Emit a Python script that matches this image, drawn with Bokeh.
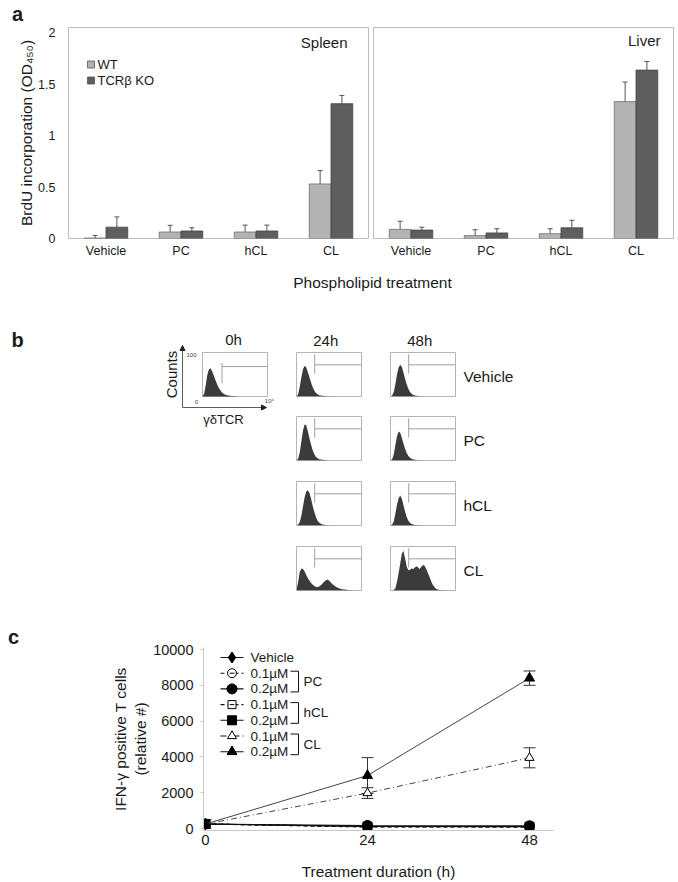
import math
from bokeh.plotting import figure
from bokeh.layouts import row, column
from bokeh.models import (Range1d, ColumnDataSource, Whisker, TeeHead, LinearAxis,
                          Label, FixedTicker, Arrow, NormalHead, NumeralTickFormatter)
from bokeh.transform import dodge
from bokeh.embed import file_html
from bokeh.resources import INLINE

FONT = "Liberation Sans"
TXT = "#1a1a1a"

# ======================= DATA =======================
# ---- panel a : BrdU incorporation (OD450)
treatments = ["Vehicle", "PC", "hCL", "CL"]
genotypes = ["WT", "TCRβ KO"]
spleen_wt = [0.005, 0.063, 0.063, 0.53]
spleen_wt_err = [0.025, 0.065, 0.067, 0.13]
spleen_ko = [0.11, 0.073, 0.073, 1.31]
spleen_ko_err = [0.10, 0.031, 0.057, 0.08]
liver_wt = [0.089, 0.028, 0.047, 1.33]
liver_wt_err = [0.079, 0.057, 0.048, 0.19]
liver_ko = [0.082, 0.054, 0.104, 1.636]
liver_ko_err = [0.028, 0.041, 0.073, 0.084]
brdu_ticks = [0, 0.5, 1, 1.5, 2]

# ---- panel b : gamma-delta TCR histograms (counts, % of max, per log bin)
time_points = ["0h", "24h", "48h"]
conditions = ["Vehicle", "PC", "hCL", "CL"]
hist_0h = [0, 6, 26, 50, 62, 64, 57, 47, 37, 28, 20, 14, 9, 6, 4, 3, 2, 1.5, 1, 1, 0.5, 0.5, 0]
hist_24h = {
    "Vehicle": [0, 5, 22, 44, 62, 70, 66, 55, 43, 31, 21, 13, 8, 5, 3, 2, 1.5, 1, 1, 0.5, 0.5, 0],
    "PC": [0, 4, 18, 44, 68, 82, 80, 66, 50, 35, 23, 14, 8, 5, 3, 2, 1.5, 1, 0.5, 0.5, 0],
    "hCL": [0, 2, 8, 22, 44, 64, 77, 80, 74, 60, 44, 30, 19, 11, 6, 4, 2.5, 1.5, 1, 0.5, 0.5, 0],
    "CL": [0, 20, 42, 50, 49, 43, 35, 28, 22, 17, 13, 10, 8, 8, 9, 12, 16, 20, 23, 25,
           23, 19, 15, 12, 9, 7, 5, 4, 3, 2.5, 2, 1.5, 1, 0.5, 0.5, 0],
}
hist_48h = {
    "Vehicle": [0, 2, 10, 28, 50, 66, 72, 67, 54, 40, 27, 17, 10, 6, 3.5, 2, 1.5, 1, 0.5, 0.5, 0],
    "PC": [0, 3, 14, 35, 55, 66, 63, 51, 38, 26, 17, 10, 6, 4, 2.5, 1.5, 1, 0.5, 0.5, 0],
    "hCL": [0, 2, 9, 27, 47, 62, 68, 61, 46, 31, 19, 11, 6, 3.5, 2, 1, 1, 0.5, 0.5, 0],
    "CL": [0, 0, 1, 5, 20, 40, 62, 84, 90, 72, 54, 46, 47, 50, 49, 52, 55, 52, 49, 54,
           58, 56, 49, 40, 31, 21, 13, 8, 4, 2, 1, 1, 0.5, 0.5, 0],
}
gate_x, gate_top, gate_bottom, gate_level = 11.2, 96, 52, 72
gate0_x, gate0_top, gate0_bottom, gate0_level = 12, 76, 30, 68

# ---- panel c : IFN-gamma positive T cells
hours = [0, 24, 48]
vehicle = [250, 120, 110]
pc_01 = [250, 100, 90]
pc_02 = [250, 170, 150]
hcl_01 = [250, 80, 80]
hcl_02 = [250, 110, 100]
cl_01 = [250, 1980, 3950]
cl_01_err = [0, 300, 560]
cl_02 = [250, 2960, 8400]
cl_02_err = [250, 1000, 400]
ifn_ticks = [0, 2000, 4000, 6000, 8000, 10000]
hour_ticks = [0, 24, 48]

# ======================= STYLE / HELPERS =======================
WT_C, KO_C = "#b3b3b3", "#5e5e5e"
BOX_C = "#b5b5b5"
HIST_C = "#3b3b3b"


def base_fig(**kw):
    p = figure(output_backend="svg", toolbar_location=None, title=None, **kw)
    p.grid.visible = False
    p.background_fill_color = "white"
    p.border_fill_color = "white"
    return p


def text_fig(left, right, top, bottom):
    p = base_fig(frame_width=right - left, frame_height=bottom - top,
                 x_range=Range1d(left, right), y_range=Range1d(bottom, top),
                 min_border=0, min_border_left=0, min_border_right=0,
                 min_border_top=0, min_border_bottom=0,
                 x_axis_location=None, y_axis_location=None)
    p.outline_line_color = None
    return p


def add_img(p, left, right, top, bottom):
    # helper ranges in page-pixel coordinates for annotation placement
    p.extra_x_ranges = {"img": Range1d(left, right)}
    p.extra_y_ranges = {"img": Range1d(bottom, top)}


def label(p, x, y, text, size, bold=False, align="center", baseline="middle",
          angle=0.0, color=TXT, rng="img"):
    kw = dict(x_range_name=rng, y_range_name=rng) if rng else {}
    p.add_layout(Label(x=x, y=y, text=text, text_font=FONT, text_font_size=size,
                       text_font_style="bold" if bold else "normal",
                       text_align=align, text_baseline=baseline, angle=angle,
                       text_color=color, **kw))


def plain_axis(ax, size, standoff):
    ax.axis_line_color = None
    ax.major_tick_line_color = None
    ax.minor_tick_line_color = None
    ax.major_tick_out = 0
    ax.major_tick_in = 0
    ax.major_label_standoff = standoff
    ax.major_label_text_font = FONT
    ax.major_label_text_font_size = size
    ax.major_label_text_color = TXT
    ax.axis_label_text_font = FONT
    ax.axis_label_text_font_style = "normal"
    ax.axis_label_text_color = TXT


def tag_axis(ticks, names, size, standoff):
    ax = LinearAxis(ticker=FixedTicker(ticks=ticks),
                    major_label_overrides={t: n for t, n in zip(ticks, names)})
    plain_axis(ax, size, standoff)
    return ax


# ======================= PANEL A =======================
cat_x = list(range(1, len(treatments) + 1))   # category slots on the x scale
A_TOP = 25


def bar_panel(wt, wt_err, ko, ko_err, frame_left, with_y):
    p = base_fig(x_range=Range1d(0.5, len(treatments) + 0.5), y_range=Range1d(0, 2.05),
                 frame_width=300, frame_height=211,
                 min_border_left=68 if with_y else 3, min_border_right=2,
                 min_border_top=27 - A_TOP, min_border_bottom=22,
                 y_axis_location="left" if with_y else None)
    p.outline_line_color = "#bdbdbd"
    src = ColumnDataSource(dict(x=cat_x, wt=wt, ko=ko,
                                wt_up=[v + e for v, e in zip(wt, wt_err)],
                                ko_up=[v + e for v, e in zip(ko, ko_err)]))
    for col, up, off, fc_, lc in (("wt", "wt_up", -0.145, WT_C, "#707070"),
                                  ("ko", "ko_up", 0.145, KO_C, "#444444")):
        p.vbar(x=dodge("x", off), top=col, bottom=0, width=0.29,
               source=src, fill_color=fc_, line_color=lc, line_width=0.8)
        p.add_layout(Whisker(source=src, base=dodge("x", off),
                             upper=up, lower=col, line_color="#555555", line_width=1,
                             upper_head=TeeHead(size=5, line_color="#555555", line_width=1),
                             lower_head=None))
    xa_ = p.xaxis[0]
    xa_.ticker = FixedTicker(ticks=cat_x)
    xa_.major_label_overrides = {i: t for i, t in zip(cat_x, treatments)}
    plain_axis(xa_, "12.5px", 5)
    if with_y:
        ax = p.yaxis[0]
        ax.ticker = FixedTicker(ticks=brdu_ticks)
        ax.formatter = NumeralTickFormatter(format="0.[0]")
        plain_axis(ax, "12.5px", 13)
        ax.axis_label = "BrdU incorporation (OD₄₅₀)"
        ax.axis_label_text_font_size = "15.5px"
        ax.axis_label_standoff = 0
    add_img(p, frame_left, frame_left + 300, 27, 238)
    return p


fa_top = text_fig(0, 675, 0, A_TOP)
label(fa_top, 17, 13, "a", "20px", bold=True, rng=None)
fa1 = bar_panel(spleen_wt, spleen_wt_err, spleen_ko, spleen_ko_err, 68, True)
fa2 = bar_panel(liver_wt, liver_wt_err, liver_ko, liver_ko_err, 373, False)
label(fa1, 347, 42, "Spleen", "15px", align="right")
label(fa2, 660, 40, "Liver", "15px", align="right")
# legend
LEG_X, LEG_Y0, LEG_DY = 90.5, 64, 16
for i, (g, c) in enumerate(zip(genotypes, (WT_C, KO_C))):
    fa1.scatter(x=[LEG_X], y=[LEG_Y0 + i * LEG_DY], marker="square", size=7,
                fill_color=c, line_color="#555555", line_width=0.8,
                x_range_name="img", y_range_name="img")
    label(fa1, LEG_X + 6.5, LEG_Y0 + i * LEG_DY, g, "13px", align="left")

fxl = text_fig(0, 675, 260, 295)
label(fxl, 372, 282, "Phospholipid treatment", "15.5px", rng=None)

# ======================= PANEL B =======================
NB = 40
HW, HH = 65, 44
B_TOP, B_BOT = 295, 605


def hist_fig(counts, frame_left, frame_top, bl, br, bt, bb):
    p = base_fig(x_range=Range1d(0, NB), y_range=Range1d(0, 100),
                 frame_width=HW, frame_height=HH,
                 min_border_left=bl, min_border_right=br, min_border_top=bt, min_border_bottom=bb,
                 x_axis_location=None, y_axis_location=None)
    p.outline_line_color = BOX_C
    p.varea(x=list(range(len(counts))), y1=[0] * len(counts), y2=counts, fill_color=HIST_C)
    p.segment(x0=[gate_x, gate_x], y0=[gate_bottom, gate_level], x1=[gate_x, NB],
              y1=[gate_top, gate_level], line_color="#a0a0a0", line_width=1)
    return p


row_tops = [352, 416, 481, 546]
col_left = {"24h": 296, "48h": 390}
col_right_border = {"24h": 29, "48h": 75}
HEAD_BIN = 18
COND_LEVEL = 45
cols = {}
for t, hd in (("24h", hist_24h), ("48h", hist_48h)):
    figs = []
    for i, cond in enumerate(conditions):
        top = row_tops[i]
        bt = top - B_TOP if i == 0 else 0
        bb = (row_tops[i + 1] - (top + HH)) if i < 3 else B_BOT - (top + HH)
        f = hist_fig(hd[cond], col_left[t], top, 0, col_right_border[t], bt, bb)
        if i == 0:
            f.add_layout(tag_axis([HEAD_BIN], [t], "15px", 4), "above")
        if t == "48h":
            f.add_layout(tag_axis([COND_LEVEL], [cond], "15.5px", 8), "right")
        figs.append(f)
    cols[t] = column(*figs)

# 0h reference histogram, drawn with its hand-style axes (whole left block of panel b)
box_l, box_r, box_t, box_b = 202, 267, 352, 396
FB_R = 296
bpx = NB / (box_r - box_l)
upx = 100 / (box_b - box_t)
fb0 = base_fig(x_range=Range1d((0 - box_l) * bpx, NB + (FB_R - box_r) * bpx),
               y_range=Range1d(-(B_BOT - box_b) * upx, 100 + (box_t - B_TOP) * upx),
               frame_width=FB_R, frame_height=B_BOT - B_TOP,
               min_border=0, min_border_left=0, min_border_right=0,
               min_border_top=0, min_border_bottom=0,
               x_axis_location=None, y_axis_location=None)
fb0.outline_line_color = None
fb0.quad(left=[0], right=[NB], bottom=[0], top=[100], fill_color=None, line_color=BOX_C)
fb0.varea(x=list(range(len(hist_0h))), y1=[0] * len(hist_0h), y2=hist_0h, fill_color=HIST_C)
fb0.segment(x0=[gate0_x, gate0_x], y0=[gate0_bottom, gate0_level], x1=[gate0_x, NB],
            y1=[gate0_top, gate0_level], line_color="#a0a0a0", line_width=1)
add_img(fb0, 0, FB_R, B_TOP, B_BOT)
for xs, ys, xe, ye in ((182, 407, 182, 345), (182, 407, 266, 407)):
    fb0.add_layout(Arrow(x_start=xs, y_start=ys, x_end=xe, y_end=ye,
                         x_range_name="img", y_range_name="img",
                         line_color="#333333", line_width=0.8,
                         end=NormalHead(size=5, fill_color="#222222", line_color="#222222")))
label(fb0, 17, 339, "b", "20px", bold=True)
label(fb0, 233, 339, time_points[0], "15px")
label(fb0, 171, 374, "Counts", "15px", angle=math.pi / 2)
label(fb0, 223, 419, "γδTCR", "13px")
label(fb0, 191, 354, "100", "6px", color="#444444")
label(fb0, 196, 401, "0", "6px", color="#444444")
label(fb0, 269, 400, "10⁴", "6px", color="#444444")

# ======================= PANEL C =======================
C_TOP, C_BOT = 605, 881
C_LEFT = 100
cx0, cx48 = 205, 529          # page px of 0 h and 48 h
cy0, cy10k = 828, 649         # page px of 0 and 10000
cfl, cfr, cft, cfb = 203, 553, 647, 830
sx = (cx48 - cx0) / 48
sy = (cy0 - cy10k) / 10000
fc = base_fig(x_range=Range1d((cfl - cx0) / sx, (cfr - cx0) / sx),
              y_range=Range1d(-(cfb - cy0) / sy, (cy0 - cft) / sy),
              frame_width=cfr - cfl, frame_height=cfb - cft,
              min_border_left=cfl - C_LEFT, min_border_right=20,
              min_border_top=cft - C_TOP, min_border_bottom=C_BOT - cfb)
fc.outline_line_color = None
add_img(fc, cfl, cfr, cft, cfb)

# panel letter: a strip with the same frame geometry as fc (row frames are aligned)
fcl = base_fig(x_range=Range1d(0, C_LEFT), y_range=Range1d(0, 1),
               frame_width=C_LEFT, frame_height=cfb - cft,
               min_border=0, min_border_left=0, min_border_right=0,
               min_border_top=cft - C_TOP, min_border_bottom=C_BOT - cfb,
               x_axis_location=None, y_axis_location=None)
fcl.outline_line_color = None
c_tag = tag_axis([13], ["c"], "20px", 0)
c_tag.major_label_text_font_style = "bold"
fcl.add_layout(c_tag, "above")

series = [
    # label, values, errors, marker, filled, dash, size, line colour
    ("Vehicle", vehicle, None, "diamond", True, "solid", 11, "#111111"),
    ("0.1µM", pc_01, None, "circle", False, "4 3", 9, "#111111"),
    ("0.2µM", pc_02, None, "circle", True, "solid", 10, "#111111"),
    ("0.1µM", hcl_01, None, "square", False, "4 3", 8, "#111111"),
    ("0.2µM", hcl_02, None, "square", True, "solid", 9, "#111111"),
    ("0.1µM", cl_01, cl_01_err, "triangle", False, "6 3 1 3", 9, "#444444"),
    ("0.2µM", cl_02, cl_02_err, "triangle", True, "solid", 10, "#444444"),
]


def draw_marker(p, src_or_xy, marker, filled, size, rng=False):
    kw = dict(x_range_name="img", y_range_name="img") if rng else {}
    if isinstance(src_or_xy, ColumnDataSource):
        kw.update(x="h", y="v", source=src_or_xy)
    else:
        kw.update(x=[src_or_xy[0]], y=[src_or_xy[1]])
    p.scatter(marker=marker, size=size, fill_color="black" if filled else "white",
              line_color="black", line_width=1, **kw)
    if not filled and marker in ("circle", "square"):
        p.scatter(marker="dash", size=size * 0.55, line_color="black", line_width=1, **kw)


for lab, vals, errs, mk, filled, dash, size, lc in series:
    src = ColumnDataSource(dict(h=hours, v=vals,
                                lo=[v - e for v, e in zip(vals, errs)] if errs else vals,
                                hi=[v + e for v, e in zip(vals, errs)] if errs else vals))
    fc.line("h", "v", source=src, line_color=lc, line_width=1.1 if lc == "#111111" else 1,
            line_dash=dash)
    if errs:
        fc.add_layout(Whisker(source=src, base="h", upper="hi", lower="lo",
                              line_color="#333333", line_width=1,
                              upper_head=TeeHead(size=12, line_color="#333333", line_width=1),
                              lower_head=TeeHead(size=12, line_color="#333333", line_width=1)))
    draw_marker(fc, src, mk, filled, size)

# axes
ya = fc.yaxis[0]
ya.ticker = FixedTicker(ticks=ifn_ticks)
ya.formatter = NumeralTickFormatter(format="0")
plain_axis(ya, "14.5px", 7)
ya.axis_line_color = "#c8c8c8"
ya.major_tick_line_color = "#c8c8c8"
ya.major_tick_out = 3
ya.axis_label = "IFN-γ positive T cells\n(relative #)"
ya.axis_label_text_font_size = "15.5px"
ya.axis_label_standoff = 1
xa = fc.xaxis[0]
xa.ticker = FixedTicker(ticks=hour_ticks)
plain_axis(xa, "15px", 4)
xa.axis_line_color = "#c8c8c8"
xa.axis_label = "Treatment duration (h)"
xa.axis_label_text_font_size = "15.5px"
xa.axis_label_standoff = 15

# legend (manual, with group brackets)
LX0, LX1, LTX, LY0, LDY = 220, 243, 250, 657, 15.7
for i, (lab, vals, errs, mk, filled, dash, size, lc) in enumerate(series):
    y = LY0 + i * LDY
    fc.line(x=[LX0, LX1], y=[y, y], line_color="#111111", line_width=1.1, line_dash=dash,
            x_range_name="img", y_range_name="img")
    draw_marker(fc, ((LX0 + LX1) / 2, y), mk, filled, size, rng=True)
    label(fc, LTX, y, lab, "13.5px", align="left")
groups = [("PC", 1, 2), ("hCL", 3, 4), ("CL", 5, 6)]
BRX0, BRX1 = 290, 298
for g, a, b in groups:
    ya_, yb_ = LY0 + a * LDY - 2, LY0 + b * LDY + 3
    fc.line(x=[BRX0, BRX1, BRX1, BRX0], y=[ya_, ya_, yb_, yb_], line_color="#111111",
            line_width=1, x_range_name="img", y_range_name="img")
    label(fc, BRX1 + 5, (ya_ + yb_) / 2, g, "13.5px", align="left")

layout = column(fa_top, row(fa1, fa2), fxl,
                row(fb0, cols["24h"], cols["48h"]),
                row(fcl, fc))
open("out.html", "w").write(file_html(layout, INLINE, title="Figure"))
